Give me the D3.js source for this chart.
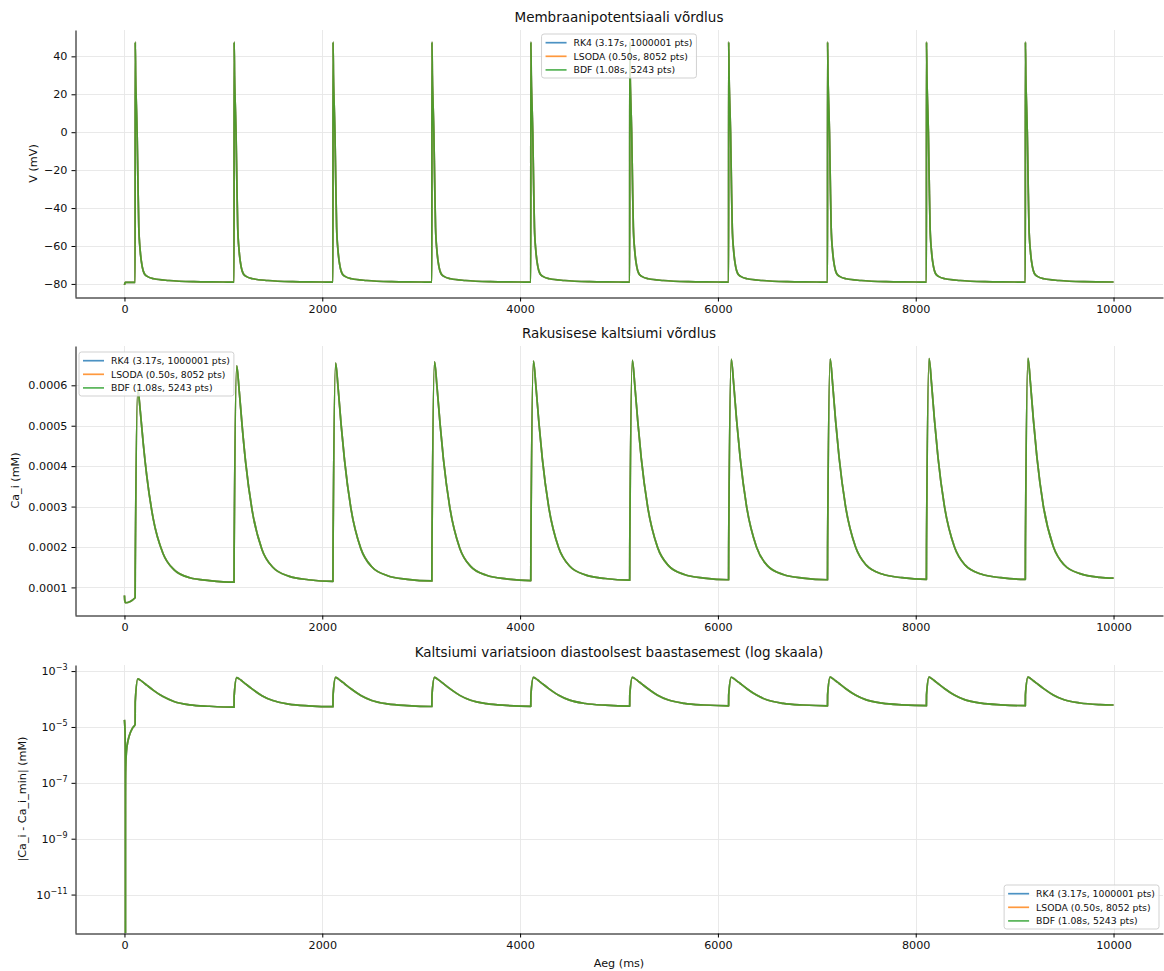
<!DOCTYPE html>
<html>
<head>
<meta charset="utf-8">
<script src="https://cdn.jsdelivr.net/npm/d3@7"></script>
<style>
  body { margin: 0; background: #fff; }
  text { font-family: "DejaVu Sans", sans-serif; fill: #111; }
</style>
</head>
<body>
<div id="chart"></div>
<script>
// --- data ---
var xTicks = [0, 2000, 4000, 6000, 8000, 10000];
var vTicks = [-80, -60, -40, -20, 0, 20, 40];
var caTicks = [0.0001, 0.0002, 0.0003, 0.0004, 0.0005, 0.0006];
var devTicks = [1e-11, 1e-9, 1e-7, 1e-5, 1e-3];

var seriesNames = ['RK4 (3.17s, 1000001 pts)', 'LSODA (0.50s, 8052 pts)', 'BDF (1.08s, 5243 pts)'];
var seriesColors = ['#1f77b4', '#ff7f0e', '#2ca02c'];

// one stimulus every 1000 ms (upstroke ~108 ms after each onset)
var beatOnsets = [0, 1000, 2000, 3000, 4000, 5000, 6000, 7000, 8000, 9000];

// membrane potential (mV)
var vStartT = [0, 8, 108];
var vStartV = [-80.5, -79.2, -79.2];
var vBeatT = [109, 113, 120, 128, 136, 145, 160, 180, 200, 230, 300, 450, 700, 1000, 1108];
var vBeatV = [47.5, 30, 15, 0, -25, -50, -63, -71, -74.5, -76, -77.3, -78.2, -78.8, -79, -79.1];

// intracellular calcium (mM)
var caStartT = [0, 3, 10, 108];
var caStartV = [0.0000800, 0.0000680, 0.0000620, 0.0000744];
var caBeatT = [109, 135, 160, 190, 225, 290, 390, 500, 660, 860, 1108];
var caBeats = [
  [0.000140, 0.000590, 0.000536, 0.000456, 0.000377, 0.000271, 0.000184, 0.000144, 0.000124, 0.000117, 0.000113],
  [0.000190, 0.000648, 0.000587, 0.000499, 0.000410, 0.000292, 0.000194, 0.000150, 0.000128, 0.000119, 0.000115],
  [0.000195, 0.000655, 0.000594, 0.000504, 0.000415, 0.000295, 0.000196, 0.000151, 0.000129, 0.000120, 0.000116],
  [0.000197, 0.000658, 0.000596, 0.000507, 0.000417, 0.000297, 0.000197, 0.000152, 0.000130, 0.000121, 0.000117],
  [0.000198, 0.000660, 0.000598, 0.000508, 0.000418, 0.000298, 0.000198, 0.000153, 0.000131, 0.000122, 0.000118],
  [0.000199, 0.000662, 0.000600, 0.000510, 0.000420, 0.000299, 0.000199, 0.000154, 0.000132, 0.000123, 0.000119],
  [0.000200, 0.000664, 0.000602, 0.000511, 0.000421, 0.000300, 0.000200, 0.000154, 0.000132, 0.000123, 0.000119],
  [0.000200, 0.000665, 0.000603, 0.000512, 0.000422, 0.000301, 0.000201, 0.000155, 0.000133, 0.000124, 0.000120],
  [0.000201, 0.000666, 0.000604, 0.000513, 0.000422, 0.000301, 0.000201, 0.000155, 0.000133, 0.000124, 0.000120],
  [0.000201, 0.000667, 0.000605, 0.000514, 0.000423, 0.000302, 0.000202, 0.000156, 0.000134, 0.000125, 0.000121]
];
var caEnd = [10000, 0.000123];

// |Ca_i - Ca_i_min| for the first 108 ms; 0 marks the minimum itself
var caMin = 0.0000620;
var devStartT = [0, 2, 4, 6, 8, 9, 9.6, 9.9, 10, 10.1, 10.4, 11, 13, 20, 30, 45, 60, 80, 108];
var devStartV = [1.8e-5, 1.4e-5, 1.0e-5, 6e-6, 2e-6, 6e-7, 3e-8, 1.15e-12, 0, 4e-10, 3e-8, 1.3e-7, 3.8e-7,
                 1.3e-6, 2.5e-6, 4.4e-6, 6.3e-6, 8.9e-6, 1.24e-5];

// --- build point lists ---
function buildSeries(startT, startV, beatT, rows) {
  var pts = startT.map(function(t, i) { return [t, startV[i]]; });
  beatOnsets.forEach(function(b, k) {
    beatT.forEach(function(o, j) {
      if (b + o <= 10000) pts.push([b + o, rows[k][j]]);
    });
  });
  return pts;
}

var vData = buildSeries(vStartT, vStartV, vBeatT, beatOnsets.map(function() { return vBeatV; }));
var caData = buildSeries(caStartT, caStartV, caBeatT, caBeats);
caData.push(caEnd);
var devData = devStartT.map(function(t, i) { return [t, devStartV[i]]; })
  .concat(caData.filter(function(d) { return d[0] > 108; })
    .map(function(d) { return [d[0], Math.abs(d[1] - caMin)]; }));

// --- layout ---
var width = 1164, height = 971;
var left = 75, right = 1163;

var svg = d3.select('#chart').append('svg')
  .attr('width', width)
  .attr('height', height);
svg.append('rect').attr('width', width).attr('height', height).attr('fill', '#fff');

var x = d3.scaleLinear().domain([-500, 10500]).range([left, right]);

function padLinear(data) {
  var e = d3.extent(data, function(d) { return d[1]; });
  var p = (e[1] - e[0]) * 0.05;
  return [e[0] - p, e[1] + p];
}
function padLog(data) {
  var e = d3.extent(data.filter(function(d) { return d[1] > 0; }),
    function(d) { return Math.log10(d[1]); });
  var p = (e[1] - e[0]) * 0.05;
  return [Math.pow(10, e[0] - p), Math.pow(10, e[1] + p)];
}

var panels = [
  { top: 30, bottom: 297, data: vData, log: false, ticks: vTicks,
    fmt: function(d) { return d < 0 ? '\u2212' + Math.abs(d) : String(d); },
    title: 'Membraanipotentsiaali võrdlus', ylabel: 'V (mV)', ylabelX: 33, legend: 'center' },
  { top: 346, bottom: 615, data: caData, log: false, ticks: caTicks,
    fmt: d3.format('.4f'),
    title: 'Rakusisese kaltsiumi võrdlus', ylabel: 'Ca_i (mM)', ylabelX: 15, legend: 'left' },
  { top: 665, bottom: 933, data: devData, log: true, ticks: devTicks,
    fmt: null,
    title: 'Kaltsiumi variatsioon diastoolsest baastasemest (log skaala)',
    ylabel: '|Ca_i - Ca_i_min| (mM)', ylabelX: 22, legend: 'right' }
];

panels.forEach(function(p, pi) {
  var y = p.log
    ? d3.scaleLog().domain(padLog(p.data)).range([p.bottom, p.top])
    : d3.scaleLinear().domain(padLinear(p.data)).range([p.bottom, p.top]);

  var g = svg.append('g');

  // grid
  g.append('g').selectAll('line').data(xTicks).enter().append('line')
    .attr('x1', function(d) { return Math.round(x(d)) + 0.5; })
    .attr('x2', function(d) { return Math.round(x(d)) + 0.5; })
    .attr('y1', p.top).attr('y2', p.bottom)
    .attr('stroke', '#e6e6e6').attr('stroke-width', 0.9);
  g.append('g').selectAll('line').data(p.ticks).enter().append('line')
    .attr('y1', function(d) { return Math.round(y(d)) + 0.5; })
    .attr('y2', function(d) { return Math.round(y(d)) + 0.5; })
    .attr('x1', left).attr('x2', right)
    .attr('stroke', '#e6e6e6').attr('stroke-width', 0.9);

  // lines (non-positive values on the log panel fall off the bottom, like a clipped log axis)
  g.append('clipPath').attr('id', 'clip' + pi)
    .append('rect').attr('x', left).attr('y', p.top)
    .attr('width', right - left).attr('height', p.bottom - p.top);

  var line = d3.line()
    .x(function(d) { return x(d[0]); })
    .y(function(d) { return p.log && d[1] <= 0 ? p.bottom + 400 : y(d[1]); })
    .curve(d3.curveMonotoneX);

  seriesColors.forEach(function(c) {
    g.append('path')
      .attr('clip-path', 'url(#clip' + pi + ')')
      .attr('d', line(p.data))
      .attr('fill', 'none')
      .attr('stroke', c)
      .attr('stroke-opacity', 0.8)
      .attr('stroke-width', 1.7)
      .attr('stroke-linejoin', 'round');
  });

  // axes
  var xAxis = g.append('g')
    .attr('transform', 'translate(0,' + (p.bottom + 0.5) + ')')
    .call(d3.axisBottom(x).tickValues(xTicks).tickFormat(d3.format('d'))
      .tickSize(4).tickSizeOuter(0).tickPadding(4));
  var yAxis = g.append('g')
    .attr('transform', 'translate(' + (left + 0.5) + ',0)')
    .call(d3.axisLeft(y).tickValues(p.ticks).tickFormat(p.log ? function() { return ''; } : p.fmt)
      .tickSize(4).tickSizeOuter(0).tickPadding(4));
  [xAxis, yAxis].forEach(function(a) {
    a.select('.domain').attr('stroke', '#000').attr('stroke-width', 1);
    a.selectAll('.tick line').attr('stroke', '#000').attr('stroke-width', 1);
    a.selectAll('text').attr('font-size', 11.2).attr('fill', '#111')
      .attr('font-family', '"DejaVu Sans", sans-serif');
  });
  if (p.log) {
    yAxis.selectAll('.tick text').each(function(d) {
      var t = d3.select(this);
      t.text('10');
      t.append('tspan').attr('dy', -5).attr('font-size', 8)
        .text('\u2212' + Math.round(-Math.log10(d)));
    });
  }

  // title and label
  svg.append('text')
    .attr('x', (left + right) / 2).attr('y', p.top - 8)
    .attr('text-anchor', 'middle').attr('font-size', 13.5)
    .text(p.title);
  svg.append('text')
    .attr('transform', 'translate(' + p.ylabelX + ',' + (p.top + p.bottom) / 2 + ') rotate(-90)')
    .attr('text-anchor', 'middle').attr('dy', '0.35em').attr('font-size', 11.2)
    .text(p.ylabel);

  // legend
  var lg = svg.append('g');
  var box = lg.append('rect');
  var texts = seriesNames.map(function(name, i) {
    lg.append('line')
      .attr('x1', 4).attr('x2', 25)
      .attr('y1', 8.7 + i * 13.6).attr('y2', 8.7 + i * 13.6)
      .attr('stroke', seriesColors[i]).attr('stroke-opacity', 0.8)
      .attr('stroke-width', 1.7);
    return lg.append('text')
      .attr('x', 32).attr('y', 8.7 + i * 13.6).attr('dy', '0.35em')
      .attr('font-size', 9.3).text(name);
  });
  var tw = d3.max(texts, function(t) { return t.node().getComputedTextLength(); });
  var bw = 32 + tw + 4, bh = 44;
  box.attr('width', bw).attr('height', bh).attr('rx', 2.5)
    .attr('fill', '#fff').attr('fill-opacity', 0.8)
    .attr('stroke', '#cccccc').attr('stroke-width', 0.9);
  var lx, ly;
  if (p.legend === 'center') { lx = (left + right) / 2 - bw / 2; ly = p.top + 4; }
  if (p.legend === 'left') { lx = left + 4; ly = p.top + 6; }
  if (p.legend === 'right') { lx = right - 4 - bw; ly = p.bottom - 4 - bh; }
  lg.attr('transform', 'translate(' + lx + ',' + ly + ')');
});

svg.append('text')
  .attr('x', (left + right) / 2).attr('y', 967)
  .attr('text-anchor', 'middle').attr('font-size', 11.2)
  .text('Aeg (ms)');
</script>
</body>
</html>
